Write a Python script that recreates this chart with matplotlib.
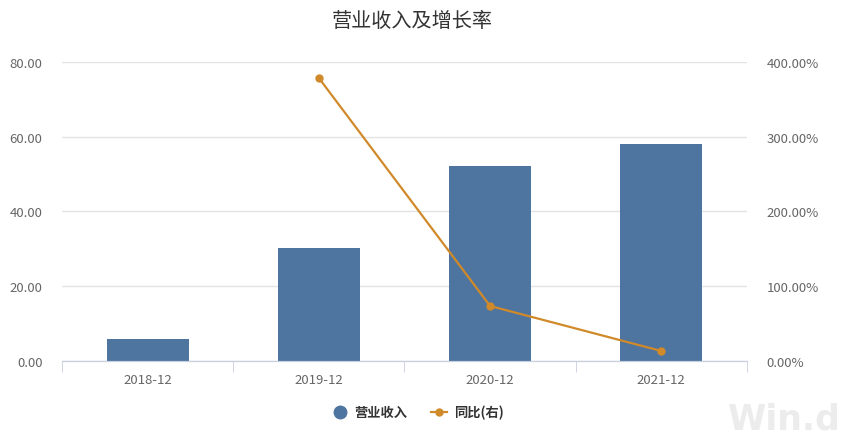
"""营业收入及增长率 chart."""
import matplotlib
matplotlib.use("Agg")
import matplotlib.pyplot as plt
from matplotlib.lines import Line2D
from matplotlib.ticker import FuncFormatter
import numpy as np

plt.rcParams['font.family'] = ['Noto Sans CJK SC', 'DejaVu Sans']

CATEGORIES = ["2018-12", "2019-12", "2020-12", "2021-12"]
REVENUE = [5.9, 30.2, 52.2, 58.1]
YOY = [np.nan, 378.6, 73.6, 13.4]

BAR_COLOR = "#4e74a0"
LINE_COLOR = "#d08a2a"
TEXT_COLOR = "#666666"


def main():
    """Go Main Go."""
    fig = plt.figure(figsize=(8.41, 4.39), dpi=100)
    ax = fig.add_axes([0.0737, 0.1754, 0.8145, 0.6811])
    ax2 = ax.twinx()

    x = np.arange(len(CATEGORIES))
    ax.bar(x, REVENUE, width=0.48, color=BAR_COLOR, zorder=2)
    ax2.plot(x, YOY, color=LINE_COLOR, lw=1.6, marker="o", ms=5, zorder=3)

    ax.set_xlim(-0.5, len(CATEGORIES) - 0.5)
    ax.set_ylim(0, 80)
    ax2.set_ylim(0, 400)
    ax.set_yticks([0, 20, 40, 60, 80])
    ax2.set_yticks([0, 100, 200, 300, 400])
    ax.yaxis.set_major_formatter(FuncFormatter(lambda v, p: f"{v:.2f}"))
    ax2.yaxis.set_major_formatter(FuncFormatter(lambda v, p: f"{v:.2f}%"))

    ax.set_xticks(x)
    ax.set_xticklabels(CATEGORIES)
    ax.set_xticks(np.arange(len(CATEGORIES) + 1) - 0.5, minor=True)
    ax.tick_params(axis="x", which="major", length=0, pad=9,
                   labelsize=9.5, labelcolor=TEXT_COLOR)
    ax.tick_params(axis="x", which="minor", length=8, color="#c8d0de")
    ax.tick_params(axis="y", length=0, pad=14, labelsize=9.5,
                   labelcolor=TEXT_COLOR)
    ax2.tick_params(axis="y", length=0, pad=14, labelsize=9.5,
                    labelcolor=TEXT_COLOR)

    ax.grid(axis="y", color="#e3e3e3", lw=1, zorder=0)
    ax.set_axisbelow(True)
    for a in (ax, ax2):
        for side in ("top", "left", "right"):
            a.spines[side].set_visible(False)
        a.spines["bottom"].set_color("#c8d0de")

    fig.text(0.49, 0.95, "营业收入及增长率", ha="center", va="center",
             fontsize=14.5, color="#333333")

    handles = [
        Line2D([], [], ls="none", marker="o", ms=9, color=BAR_COLOR),
        Line2D([], [], color=LINE_COLOR, lw=1.6, marker="o", ms=5),
    ]
    fig.legend(handles, ["营业收入", "同比(右)"], loc="center",
               bbox_to_anchor=(0.497, 0.059), ncol=2, frameon=False,
               prop={"weight": "bold", "size": 9.5}, handlelength=1.2,
               handletextpad=0.5, columnspacing=1.8, labelcolor="#333333")

    fig.text(1.0, 0.045, "Win.d", ha="right", va="center", fontsize=25,
             color="#ececec", fontweight="bold", family="DejaVu Sans")

    fig.savefig("out.png", dpi=100)


if __name__ == "__main__":
    main()
